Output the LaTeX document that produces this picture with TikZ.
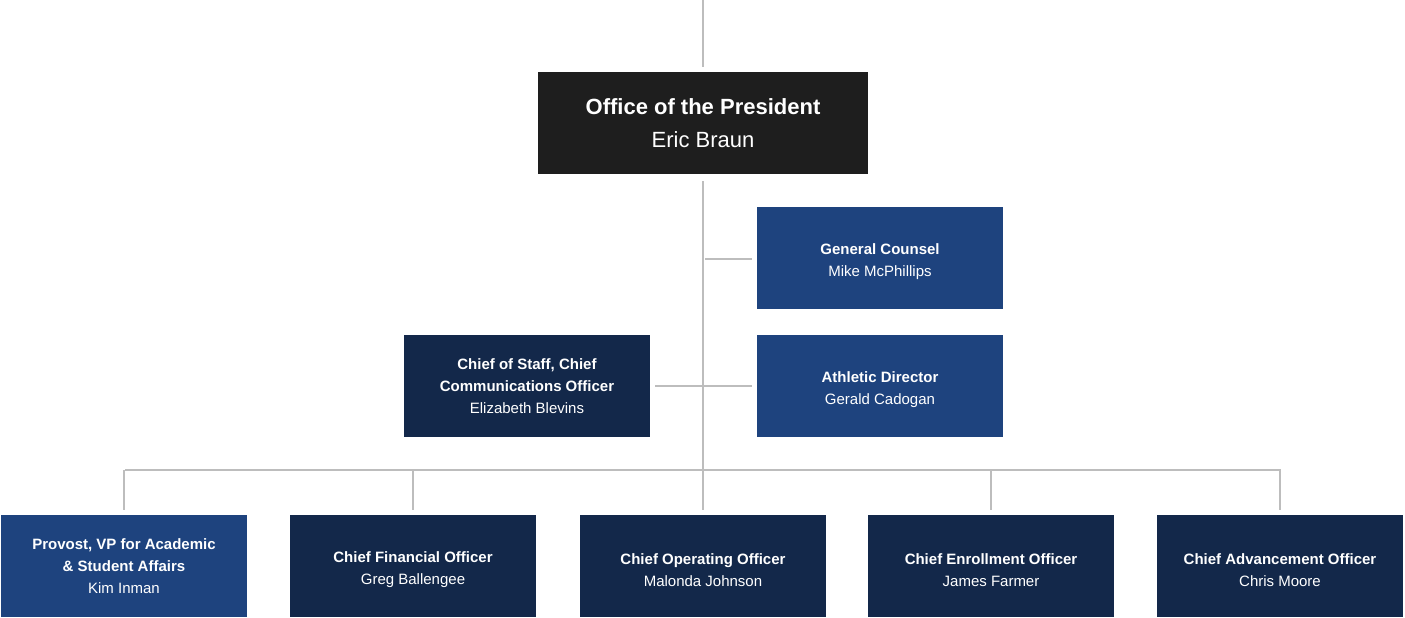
\documentclass[tikz,border=0pt]{standalone}
\usepackage{fontspec}
\setmainfont{Liberation Sans}
\definecolor{lineg}{HTML}{BDBDBD}
\definecolor{presc}{HTML}{1E1E1E}
\definecolor{midblue}{HTML}{1E437E}
\definecolor{darkblue}{HTML}{13284A}
\newcommand{\dn}{\rule{0pt}{19pt}}
\begin{document}
\begin{tikzpicture}[x=1pt,y=-1pt,
  box/.style={rectangle,inner sep=0pt,minimum width=246pt,minimum height=102pt,text=white,align=center,font=\fontsize{15}{22}\selectfont},
  mid/.style={box,fill=midblue},
  dark/.style={box,fill=darkblue},
  conn/.style={draw=lineg,line width=2.4pt}]
\useasboundingbox[fill=white] (0,0) rectangle (1405,618);
\node[box,fill=presc,minimum width=330pt,font=\fontsize{22}{33}\selectfont] (pres) at (703,123) {\textbf{Office of the President}\\Eric Braun};
\node[mid] (gc) at (880,258) {\dn\textbf{General Counsel}\\Mike McPhillips};
\node[mid] (ad) at (880,386) {\dn\textbf{Athletic Director}\\Gerald Cadogan};
\node[dark] (cos) at (527,386) {\textbf{Chief of Staff, Chief}\\\textbf{Communications Officer}\\Elizabeth Blevins};
\node[mid] (prov) at (124,566) {\textbf{Provost, VP for Academic}\\\textbf{\& Student Affairs}\\Kim Inman};
\node[dark] (cfo) at (413,566) {\dn\textbf{Chief Financial Officer}\\Greg Ballengee};
\node[dark] (coo) at (703,566) {\dn\textbf{Chief Operating Officer}\\Malonda Johnson};
\node[dark] (ceo) at (991,566) {\dn\textbf{Chief Enrollment Officer}\\James Farmer};
\node[dark] (cao) at (1280,566) {\dn\textbf{Chief Advancement Officer}\\Chris Moore};
\coordinate (top) at (703,0);
\coordinate (bus) at (703,470);
\coordinate (jgc) at (703,259);
\coordinate (jad) at (703,386);
\coordinate (busL) at (125,470);
\coordinate (busR) at (1281,470);
\draw[conn,shorten >=5pt] (top) -- (pres.north);
\draw[conn,shorten <=7pt] (pres.south) -- (bus);
\draw[conn,shorten >=5pt,shorten <=2pt] (jgc) -- (gc.west |- jgc);
\draw[conn,shorten >=5pt] (jad) -- (ad.west);
\draw[conn,shorten <=5pt] (cos.east) -- (jad);
\draw[conn] (busL) -- (busR);
\foreach \n in {prov,cfo,coo,ceo,cao}
  \draw[conn,shorten >=5pt] (\n.north |- bus) -- (\n.north);
\end{tikzpicture}
\end{document}
